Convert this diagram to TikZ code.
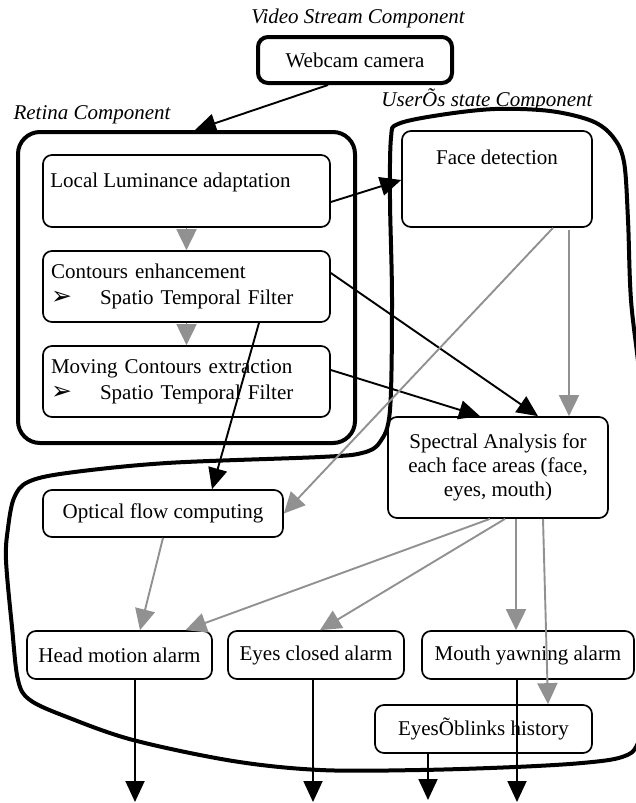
\documentclass[tikz,border=0pt]{standalone}
\usepackage{fontspec}
\setmainfont{Liberation Serif}
\newfontfamily\arrowfont{DejaVu Sans}
\usetikzlibrary{arrows.meta,calc}
\definecolor{arrowgray}{RGB}{145,145,145}
\begin{document}
\begin{tikzpicture}[x=1pt,y=-1pt,
  txt/.style={font=\fontsize{21}{24}\selectfont, inner sep=0pt},
  ital/.style={font=\fontsize{21}{24}\selectfont\itshape, inner sep=0pt},
  box/.style={draw, line width=1.7pt, rounded corners=9pt, inner sep=0pt, font=\fontsize{21}{24}\selectfont},
  twoline/.style={box, font=\fontsize{21}{26}\selectfont, text width=271pt, align=left},
  comp/.style={draw, line width=4pt, rounded corners=22pt, inner sep=0pt},
  blk/.style={line width=1.9pt, -{Triangle[length=21pt,width=19pt]}},
  gry/.style={draw=arrowgray, color=arrowgray, line width=1.9pt, -{Triangle[length=21pt,width=20pt]}}
]
\useasboundingbox (0,0) rectangle (635,803);

% component labels
\node[ital] (lvid) at (358,18) {Video Stream Component};
\node[ital] (lret) at (92,115) {Retina Component};
\node[ital] (lusr) at (487,100) {UserÕs state Component};

% component outlines
\node[comp, rounded corners=10pt, minimum width=194pt, minimum height=46pt, font=\fontsize{21}{24}\selectfont] (cam) at (355,60) {Webcam camera};
\node[comp, minimum width=337pt, minimum height=311pt] (retina) at (186.5,287.5) {};
\draw[line width=4pt] plot[smooth cycle, tension=0.55] coordinates {
  (392,300) (390,200) (391,138) (398,124) (440,115) (495,109) (550,111) (592,121)
  (613,137) (624,162) (628,220) (631,300) (640,380) (652,520) (652,690) (638,743)
  (622,757) (582,763) (515,767) (420,770) (320,770) (233,761) (133,740) (67,717)
  (30,700) (18,680) (12,627) (6,560) (8,528) (14,498) (28,482) (67,473) (167,463)
  (320,457) (362,453) (380,442) (390,410)};

% boxes
\node[box, minimum width=287pt, minimum height=72pt,
  label={[txt, anchor=west, xshift=8pt, yshift=9pt]west:Local Luminance adaptation}] (lla) at (186.5,191) {};
\node[twoline, minimum width=287pt, minimum height=71pt] (cont) at (186.5,286.5)
  {Contours enhancement\\\makebox[49pt][l]{\arrowfont\fontsize{25}{25}\selectfont ➢}Spatio Temporal Filter};
\node[twoline, minimum width=287pt, minimum height=71pt] (mov) at (186.5,381.5)
  {Moving Contours extraction\\\makebox[49pt][l]{\arrowfont\fontsize{25}{25}\selectfont ➢}Spatio Temporal Filter};
\node[box, minimum width=190pt, minimum height=96pt,
  label={[txt, anchor=center, yshift=-27pt]north:Face detection}] (face) at (497,179) {};
\node[box, minimum width=220pt, minimum height=101pt, align=center] (spec) at (498,467.5)
  {Spectral Analysis for\\each face areas (face,\\eyes, mouth)};
\node[box, minimum width=240pt, minimum height=47pt] (opt) at (163,513.5) {Optical flow computing};
\node[box, minimum width=185pt, minimum height=48pt] (head) at (119.5,655) {Head motion alarm};
\node[box, minimum width=176pt, minimum height=48pt] (eyes) at (316,655) {Eyes closed alarm};
\node[box, minimum width=212pt, minimum height=48pt] (mouth) at (528,655) {Mouth yawning alarm};
\node[box, minimum width=217pt, minimum height=48pt] (blink) at (483.5,729) {EyesÕblinks history};

% free ends
\coordinate (o1) at (135,802);
\coordinate (o2) at (313,802);
\coordinate (o3) at (428,800);
\coordinate (o4) at (517,802);

% black connectors
\draw[blk] ($(cam.south)+(-27,0)$) -- ($(retina.north)+(8.5,0)$);
\draw[blk] ($(lla.east)+(0,11)$) -- ($(face.west)+(0,1)$);
\draw[blk] ($(cont.south)+(72.5,0)$) -- ($(opt.north)+(49,0)$);
\draw[blk] ($(cont.east)+(0,-13.5)$) -- ($(spec.north)+(40,0)$);
\draw[blk] ($(mov.east)+(0,-11.5)$) -- ($(spec.north)+(-18,0)$);

% gray connectors
\draw[gry] (lla.south) -- (cont.north);
\draw[gry] (cont.south) -- (mov.north);
\draw[gry] ($(face.south)+(56,0)$) -- (opt.east);
\draw[gry] ($(face.south)+(72,2)$) -- ($(spec.north)+(71,0)$);
\draw[gry] (opt.south) -- ($(head.north)+(20.5,0)$);
\draw[gry] ($(spec.south)+(-8,0)$) -- ($(head.north)+(66,0)$);
\draw[gry] ($(spec.south)+(7,0)$) -- ($(eyes.north)+(4,0)$);
\draw[gry] ($(spec.south)+(18,0)$) -- ($(mouth.north)+(-12,0)$);
\draw[gry] ($(spec.south)+(45,0)$) -- ($(blink.north)+(64.5,0)$);

% outputs
\draw[blk] ($(head.south)+(15.5,0)$) -- (o1);
\draw[blk] ($(eyes.south)+(-3,0)$) -- (o2);
\draw[blk] ($(blink.south)+(-55.5,0)$) -- (o3);
\draw[blk] ($(mouth.south)+(-11,0)$) -- (o4);
\end{tikzpicture}
\end{document}
